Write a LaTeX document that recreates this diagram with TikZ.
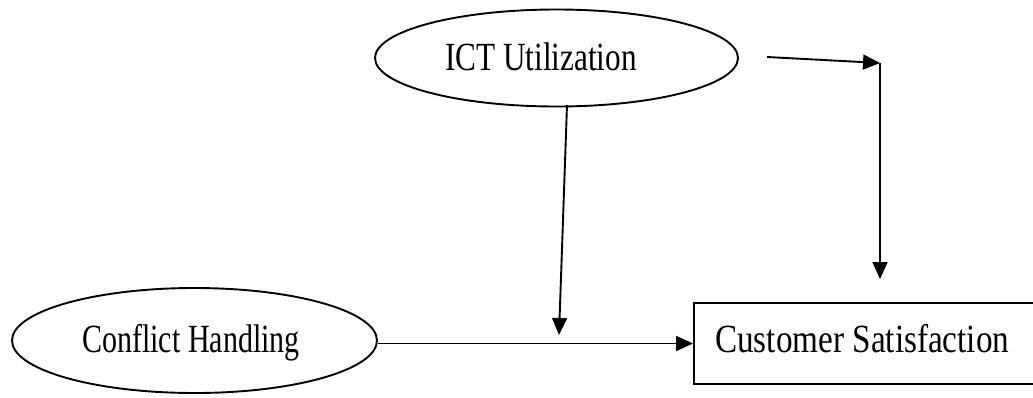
\documentclass[tikz,border=0pt]{standalone}
\usepackage{fontspec}
\setmainfont{Liberation Serif}
\usetikzlibrary{shapes.geometric,arrows.meta}

\tikzset{
  oval/.style={draw, ellipse, line width=1.9pt, inner sep=0pt},
  boxnode/.style={draw, rectangle, line width=1.9pt, inner sep=0pt},
  caption/.style={inner sep=0pt, anchor=base west, font=\fontsize{40}{44}\selectfont},
  link/.style={line width=1.9pt, -{Triangle[length=17pt,width=15pt]}},
}

\begin{document}
\begin{tikzpicture}[x=1pt, y=-1pt]
\useasboundingbox (0,0) rectangle (1033,397);
\clip (0,0) rectangle (1033,397);

% variables
\node[oval, minimum width=363pt, minimum height=97pt] (ict) at (556.5,58) {};
\node[oval, minimum width=365pt, minimum height=105pt] (conf) at (194.5,340.5) {};
\node[boxnode, minimum width=352pt, minimum height=81pt] (sat) at (870,343.5) {};

% labels
\node[caption] (ictlabel) at (445,70) {\scalebox{0.78}[1]{ICT Utilization}};
\node[caption] (conflabel) at (82,352) {\scalebox{0.75}[1]{Conflict Handling}};
\node[caption] (satlabel) at (715,352) {\scalebox{0.83}[1]{Customer Satisfaction}};

% connector end points
\coordinate (ictout) at (767,57);
\coordinate (corner) at (880,63);
\coordinate (sattop) at (880,279);
\coordinate (ictbot) at (567,105);
\coordinate (modtip) at (559,335);

% arrows
\draw[link] (ictout) -- (corner);
\draw[link] (corner) -- (sattop);
\draw[link] (ictbot) -- (modtip);
\draw[link] (conf.east |- sat.west) -- (sat.west);
\end{tikzpicture}
\end{document}
